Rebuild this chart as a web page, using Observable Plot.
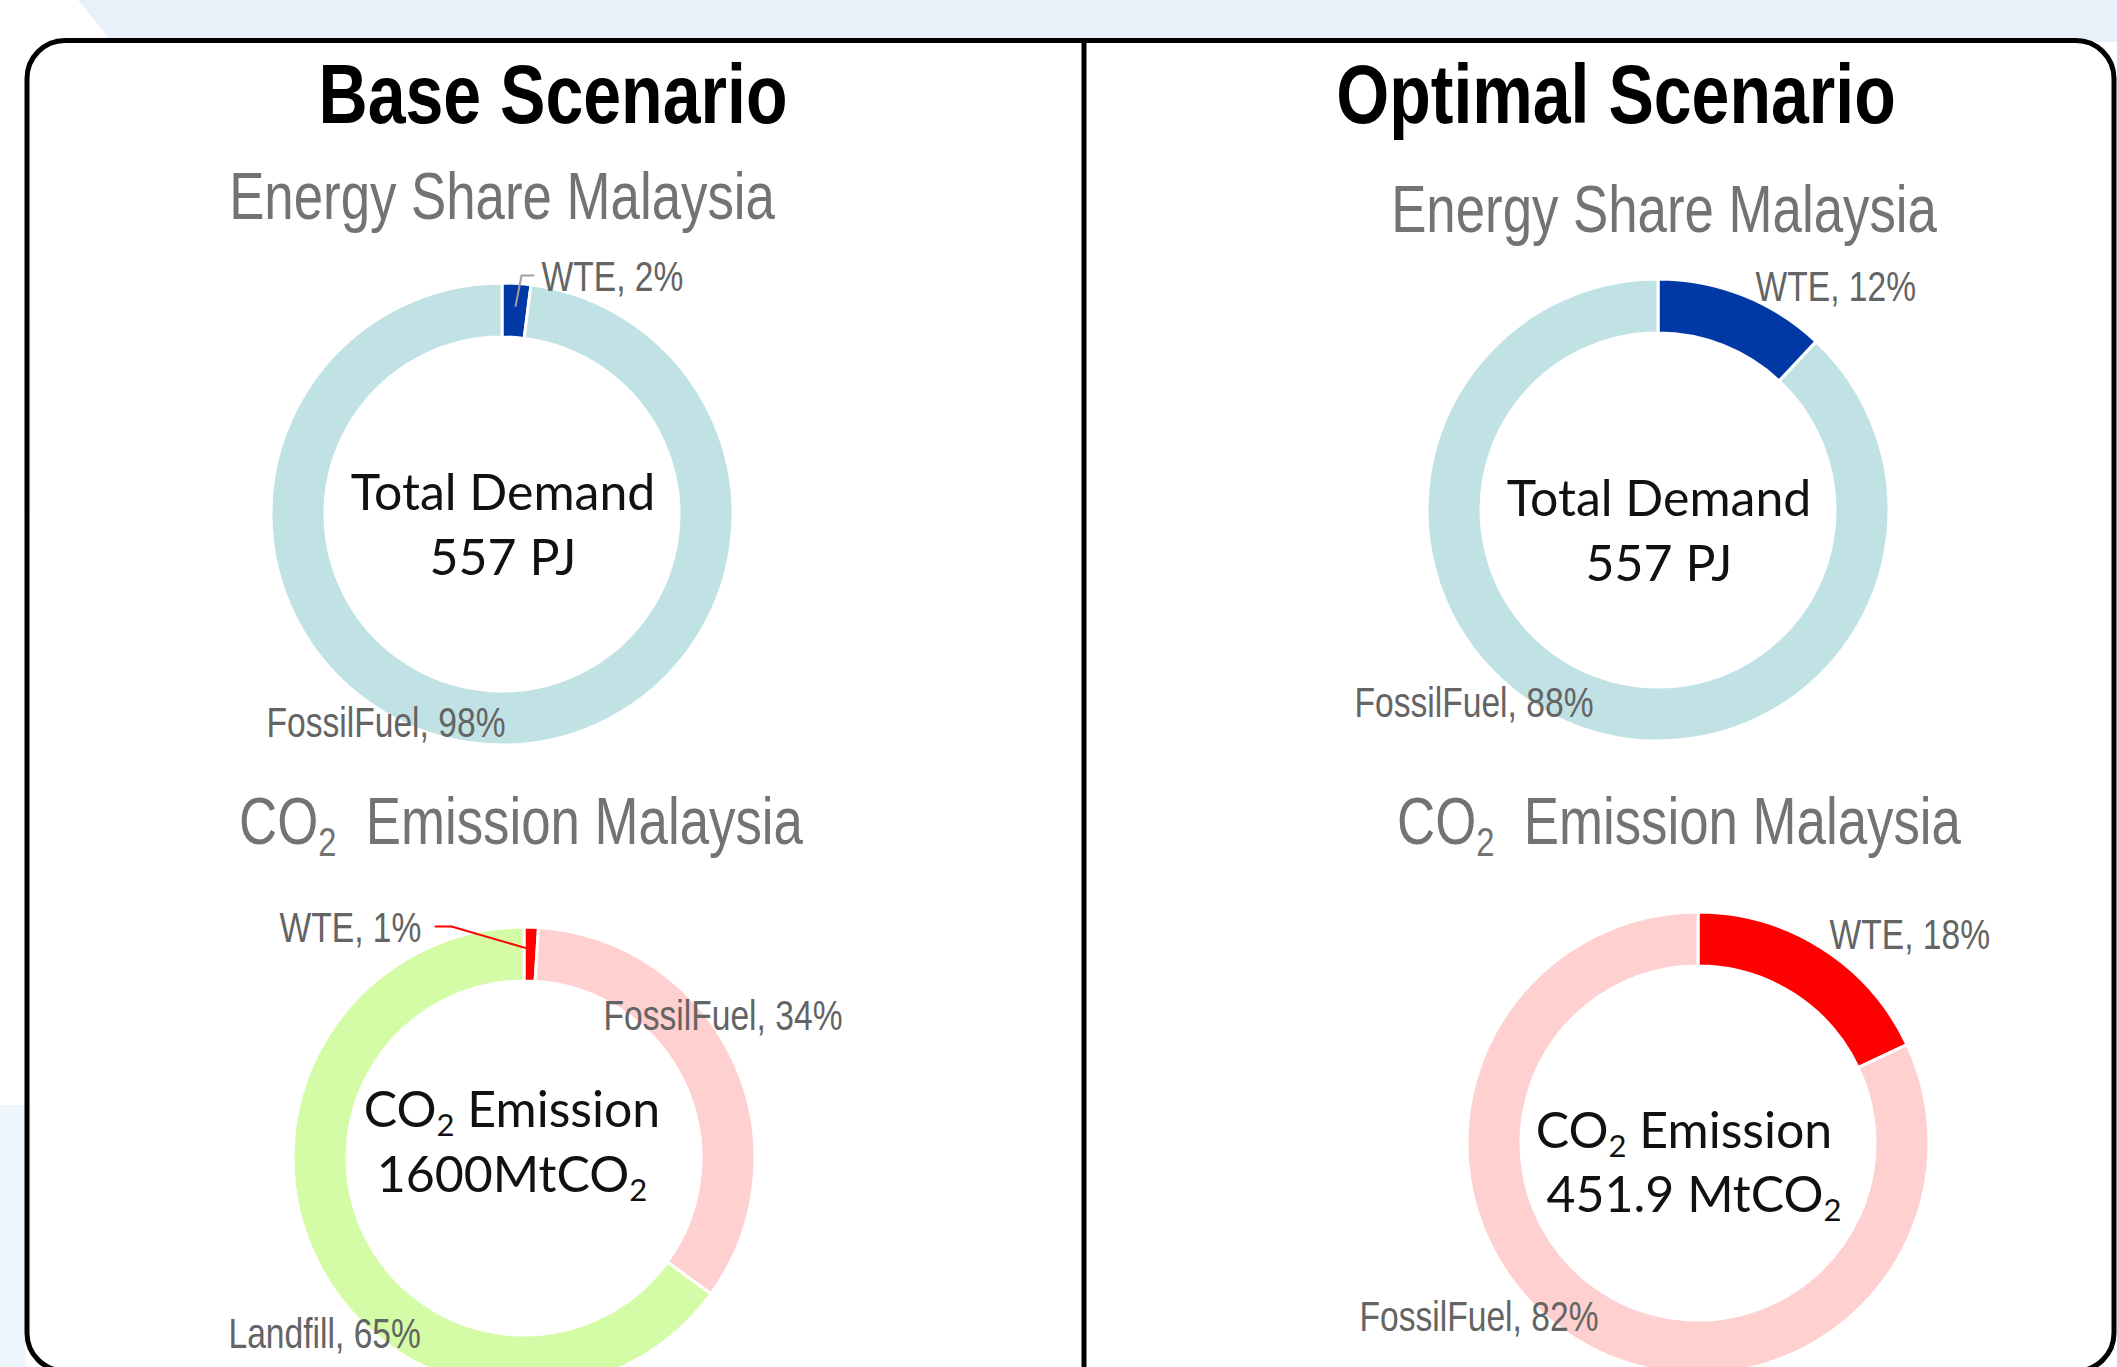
<!DOCTYPE html>
<html>
<head>
<meta charset="utf-8">
<script src="https://cdn.jsdelivr.net/npm/d3@7"></script>
<script src="https://cdn.jsdelivr.net/npm/@observablehq/plot@0.6"></script>
<style>
  html, body { margin: 0; padding: 0; width: 2117px; height: 1367px; overflow: hidden; background: #ffffff; }
  #page { position: relative; width: 2117px; height: 1367px; overflow: hidden; }
</style>
</head>
<body>
<div id="page"></div>
<script>
// ---------------- DATA ----------------
const scenarioTitles = ["Base Scenario", "Optimal Scenario"];
const energySubtitle = "Energy Share Malaysia";
const co2Subtitle = ["CO", "2", "Emission Malaysia"];

const energyCategories = ["WTE", "FossilFuel"];
const energyShareBase = [2, 98];
const energyShareOptimal = [12, 88];

const co2CategoriesBase = ["WTE", "FossilFuel", "Landfill"];
const co2ShareBase = [1, 34, 65];
const co2CategoriesOptimal = ["WTE", "FossilFuel"];
const co2ShareOptimal = [18, 82];

const totalDemandLabel = "Total Demand";
const totalDemandValues = ["557 PJ", "557 PJ"];
const co2TotalLabel = "CO₂ Emission";
const co2TotalValues = ["1600MtCO₂", "451.9 MtCO₂"];

// ---------------- STYLES ----------------
const energyColorRange = ["#0039a6", "#c1e2e4"];
const co2ColorDomain = ["WTE", "FossilFuel", "Landfill"];
const co2ColorRange = ["#ff0000", "#ffd0d0", "#d4fca6"];

const energyColor = Plot.scale({color: {type: "ordinal", domain: energyCategories, range: energyColorRange}});
const co2Color = Plot.scale({color: {type: "ordinal", domain: co2ColorDomain, range: co2ColorRange}});

const R_OUTER = 231, R_INNER = 177;
const LABEL_FONT = "Liberation Sans, Arial, sans-serif";
const LABEL_FILL = "#646464";
const CONDENSE = 0.8;

// ---------------- LAYOUT ----------------
const W = 2117, H = 1367;
const panels = [
  {cx: 502, cy: 514, cats: energyCategories, values: energyShareBase, color: energyColor,
   labels: [{dx: 39, dy: -224}, {dx: -236, dy: 222}],
   leader: {cat: 0, stroke: "#a0a0a0", from: [[31, -239], [19, -239]]}},
  {cx: 1658, cy: 510, cats: energyCategories, values: energyShareOptimal, color: energyColor,
   labels: [{dx: 97, dy: -210}, {dx: -304, dy: 206}]},
  {cx: 524, cy: 1158, cats: co2CategoriesBase, values: co2ShareBase, color: co2Color,
   labels: [{dx: -245, dy: -217}, {dx: 79, dy: -129}, {dx: -296, dy: 189}],
   leader: {cat: 0, stroke: "#ff0000", from: [[-89, -232], [-73, -232]]}},
  {cx: 1698, cy: 1143, cats: co2CategoriesOptimal, values: co2ShareOptimal, color: co2Color,
   labels: [{dx: 131, dy: -195}, {dx: -339, dy: 187}]}
];

const page = document.getElementById("page");

// condense a (single-run) text element horizontally while keeping plain x/y positioning
function condense(t, factor) {
  const len = t.getComputedTextLength();
  if (len > 0) {
    t.setAttribute("textLength", (len * factor).toFixed(1));
    t.setAttribute("lengthAdjust", "spacingAndGlyphs");
  }
}

// ---------------- BACKGROUND / FRAME / TEXTS ----------------
const bg = d3.create("svg").attr("width", W).attr("height", H)
  .style("position", "absolute").style("left", "0px").style("top", "0px");
page.appendChild(bg.node());
bg.append("polygon").attr("points", `78,0 ${W},0 ${W},42 112,42`).attr("fill", "#e8f1f9");
bg.append("rect").attr("x", 0).attr("y", 1105).attr("width", 26).attr("height", H - 1105).attr("fill", "#eef5fb");
bg.append("rect").attr("x", 27).attr("y", 40.5).attr("width", 2114 - 27).attr("height", 1371 - 40.5)
  .attr("rx", 38).attr("fill", "#ffffff").attr("stroke", "#000").attr("stroke-width", 5);
bg.append("line").attr("x1", 1084).attr("x2", 1084).attr("y1", 40).attr("y2", H)
  .attr("stroke", "#000").attr("stroke-width", 5);

function addText(parts, {x, y, size, weight = 400, fill = "#000", family = LABEL_FONT, sx = 1}) {
  const t = bg.append("text")
    .attr("transform", `translate(${x},${y}) scale(${sx},1)`)
    .attr("text-anchor", "middle")
    .attr("font-family", family).attr("font-size", size).attr("font-weight", weight).attr("fill", fill);
  let shifted = false;
  parts.forEach(p => {
    const ts = t.append("tspan").text(p.t);
    if (p.sub) { ts.attr("font-size", size * 0.62).attr("dy", size * 0.18); shifted = true; }
    else if (shifted) { ts.attr("dy", -size * 0.18); shifted = false; }
  });
  return t;
}
function splitSub(s) {
  const parts = [];
  s.split(/(₂)/).forEach(seg => { if (seg === "₂") parts.push({t: "2", sub: true}); else if (seg) parts.push({t: seg}); });
  return parts;
}

// Scenario titles
addText([{t: scenarioTitles[0]}], {x: 553, y: 123, size: 84, weight: 700, sx: 0.81});
addText([{t: scenarioTitles[1]}], {x: 1616, y: 123, size: 84, weight: 700, sx: 0.81});
// Subtitles
const SUB_FILL = "#737373";
addText([{t: energySubtitle}], {x: 502, y: 219, size: 66, fill: SUB_FILL, sx: 0.8});
addText([{t: energySubtitle}], {x: 1664, y: 232, size: 66, fill: SUB_FILL, sx: 0.8});
const co2SubParts = [{t: co2Subtitle[0]}, {t: co2Subtitle[1], sub: true}, {t: "\u00a0 " + co2Subtitle[2]}];
addText(co2SubParts, {x: 521, y: 844, size: 66, fill: SUB_FILL, sx: 0.8});
addText(co2SubParts, {x: 1679, y: 844, size: 66, fill: SUB_FILL, sx: 0.8});
// Center texts
const CENTER_FONT = "Lato, 'Open Sans', sans-serif";
const CENTER_SIZE = 50;
const CF = "#111111";
addText([{t: totalDemandLabel}], {x: 503, y: 510, size: CENTER_SIZE, fill: CF, family: CENTER_FONT});
addText([{t: totalDemandValues[0]}], {x: 503, y: 575, size: CENTER_SIZE, fill: CF, family: CENTER_FONT});
addText([{t: totalDemandLabel}], {x: 1659, y: 516, size: CENTER_SIZE, fill: CF, family: CENTER_FONT});
addText([{t: totalDemandValues[1]}], {x: 1659, y: 581, size: CENTER_SIZE, fill: CF, family: CENTER_FONT});
addText(splitSub(co2TotalLabel), {x: 512, y: 1127, size: CENTER_SIZE, fill: CF, family: CENTER_FONT});
addText(splitSub(co2TotalValues[0]), {x: 512, y: 1192, size: CENTER_SIZE, fill: CF, family: CENTER_FONT});
addText(splitSub(co2TotalLabel), {x: 1684, y: 1148, size: CENTER_SIZE, fill: CF, family: CENTER_FONT});
addText(splitSub(co2TotalValues[1]), {x: 1694, y: 1212, size: CENTER_SIZE, fill: CF, family: CENTER_FONT});

// ---------------- DONUTS (Observable Plot) ----------------
const PW = 1000, PH = 640;

function donutMark(cats, values, color) {
  return function (index, scales, vals, dims) {
    const sx = scales && typeof scales.x === "function" ? scales.x : (v => v + dims.width / 2);
    const sy = scales && typeof scales.y === "function" ? scales.y : (v => v + dims.height / 2);
    const cx = sx(0), cy = sy(0);
    const ro = sx(R_OUTER) - cx, ri = sx(R_INNER) - cx;
    const slices = d3.pie().sort(null).value(d => d.value)(cats.map((c, i) => ({cat: c, value: values[i]})));
    const arc = d3.arc().innerRadius(ri).outerRadius(ro);
    const g = d3.create("svg:g").attr("transform", `translate(${cx},${cy})`);
    g.selectAll("path").data(slices).join("path")
      .attr("d", arc)
      .attr("fill", d => color.apply(d.data.cat))
      .attr("stroke", "#ffffff").attr("stroke-width", 3).attr("stroke-linejoin", "round");
    return g.node();
  };
}

panels.forEach(p => {
  const labelData = p.cats.map((c, i) => ({label: `${c}, ${p.values[i]}%`, x: p.labels[i].dx, y: p.labels[i].dy}));
  const marks = [donutMark(p.cats, p.values, p.color)];
  if (p.leader) {
    const slices = d3.pie().sort(null)(p.values);
    const s = slices[p.leader.cat];
    const mid = (s.startAngle + s.endAngle) / 2;
    const rm = (R_OUTER + R_INNER) / 2 + 5;
    const pts = p.leader.from.map(([x, y]) => ({x, y}))
      .concat([{x: rm * Math.sin(mid), y: -rm * Math.cos(mid)}]);
    marks.push(Plot.line(pts, {x: "x", y: "y", stroke: p.leader.stroke, strokeWidth: 2}));
  }
  marks.push(Plot.text(labelData, {
    x: "x", y: "y", text: "label", textAnchor: "start", lineAnchor: "bottom",
    fontSize: 42, fontFamily: LABEL_FONT, fill: LABEL_FILL
  }));
  const svg = Plot.plot({
    width: PW, height: PH, margin: 0,
    x: {domain: [-PW / 2, PW / 2], range: [0, PW], axis: null},
    y: {domain: [-PH / 2, PH / 2], range: [0, PH], axis: null},
    style: {background: "transparent", overflow: "visible"},
    marks
  });
  svg.style.position = "absolute";
  svg.style.left = (p.cx - PW / 2) + "px";
  svg.style.top = (p.cy - PH / 2) + "px";
  svg.style.maxWidth = "none";
  page.appendChild(svg);
  // turn per-text translate transforms into x/y and condense (Arial Narrow look)
  svg.querySelectorAll("g[aria-label='text'] text").forEach(t => {
    const tr = t.getAttribute("transform") || "";
    const m = tr.match(/translate\(\s*([-\d.e]+)[ ,]+([-\d.e]+)\s*\)/);
    if (m) {
      t.removeAttribute("transform");
      t.setAttribute("x", m[1]);
      t.setAttribute("y", m[2]);
    }
    condense(t, CONDENSE);
  });
});
</script>
</body>
</html>
